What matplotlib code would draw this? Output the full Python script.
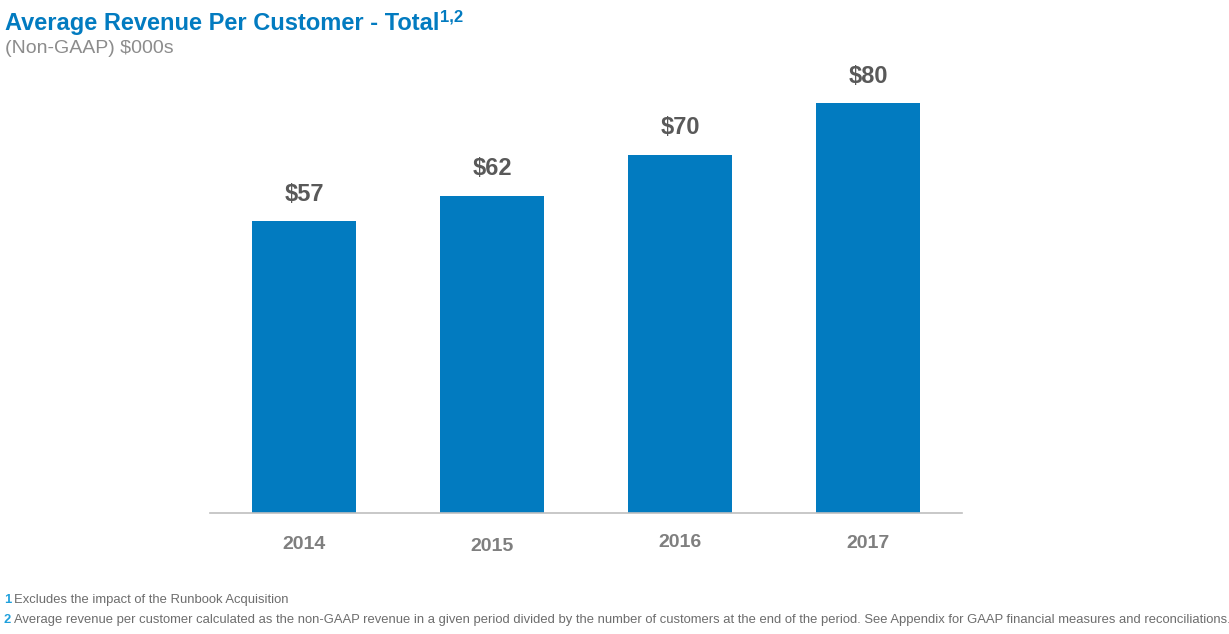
import matplotlib.pyplot as plt
import matplotlib.transforms as mtransforms

years = ["2014", "2015", "2016", "2017"]
revenue = [57, 62, 70, 80]
value_labels = ["$57", "$62", "$70", "$80"]
label_nudge_px = [-1, 1, -3, -2]  # the year labels are not quite level in the source

title = "Average Revenue Per Customer - Total"
title_sup = "1,2"
subtitle = "(Non-GAAP) $000s"
notes = [("1", "Excludes the impact of the Runbook Acquisition"),
         ("2", "Average revenue per customer calculated as the non-GAAP revenue in a given period divided by "
               "the number of customers at the end of the period. See Appendix for GAAP financial measures and reconciliations.")]

BLUE = "#027bc0"
plt.rcParams['font.family'] = ['Liberation Sans', 'DejaVu Sans']

W, H = 1229, 634
fig = plt.figure(figsize=(W / 100, H / 100), dpi=100)
ax = fig.add_axes([210 / W, (H - 513) / H, (962 - 210) / W, (513 - 60) / H])

x = list(range(len(years)))
bars = ax.bar(x, revenue, width=0.555, color=BLUE)
ax.set_xlim(-0.5, 3.5)
ax.set_ylim(0, (513 - 60) / 5.12)

for b, lab in zip(bars, value_labels):
    ax.annotate(lab, (b.get_x() + b.get_width() / 2, b.get_height()), xytext=(0, 11),
                textcoords="offset points", ha="center", va="bottom",
                fontsize=17, fontweight="bold", color="#595959")

ax.set_xticks(x)
ax.set_xticklabels(years, fontsize=14, fontweight="bold", color="#7f7f7f")
ax.tick_params(axis="x", length=0, pad=17)
ax.set_yticks([])
for s in ["top", "left", "right"]:
    ax.spines[s].set_visible(False)
ax.spines["bottom"].set_color("#bfbfbf")
ax.spines["bottom"].set_linewidth(1.2)

for tl, d in zip(ax.get_xticklabels(), label_nudge_px):
    tl.set_transform(tl.get_transform() + mtransforms.Affine2D().translate(0, -d))

# header
t = fig.text(5 / W, 1 - 30 / H, title, fontsize=17, fontweight="bold", color=BLUE,
             ha="left", va="baseline")
fig.canvas.draw()
fig.text(5 / W, 1 - 53 / H, subtitle, fontsize=14, color="#8c8c8c", ha="left", va="baseline")
ext = t.get_window_extent()
fig.text((ext.x1 + 1) / W, 1 - 31 / H + 9 / H, title_sup, fontsize=12, fontweight="bold",
         color=BLUE, ha="left", va="baseline")

# footnotes
for i, (num, txt) in enumerate(notes):
    yb = 1 - (603 + 20 * i) / H
    n = fig.text(4 / W, yb, num, fontsize=9.4, fontweight="bold", color="#1fa0dc",
                 ha="left", va="baseline")
    fig.canvas.draw()
    ne = n.get_window_extent()
    fig.text((ne.x1 + 3) / W, yb, txt, fontsize=9.4, color="#6d6d6d", ha="left", va="baseline")

fig.savefig("out.png", dpi=100)
